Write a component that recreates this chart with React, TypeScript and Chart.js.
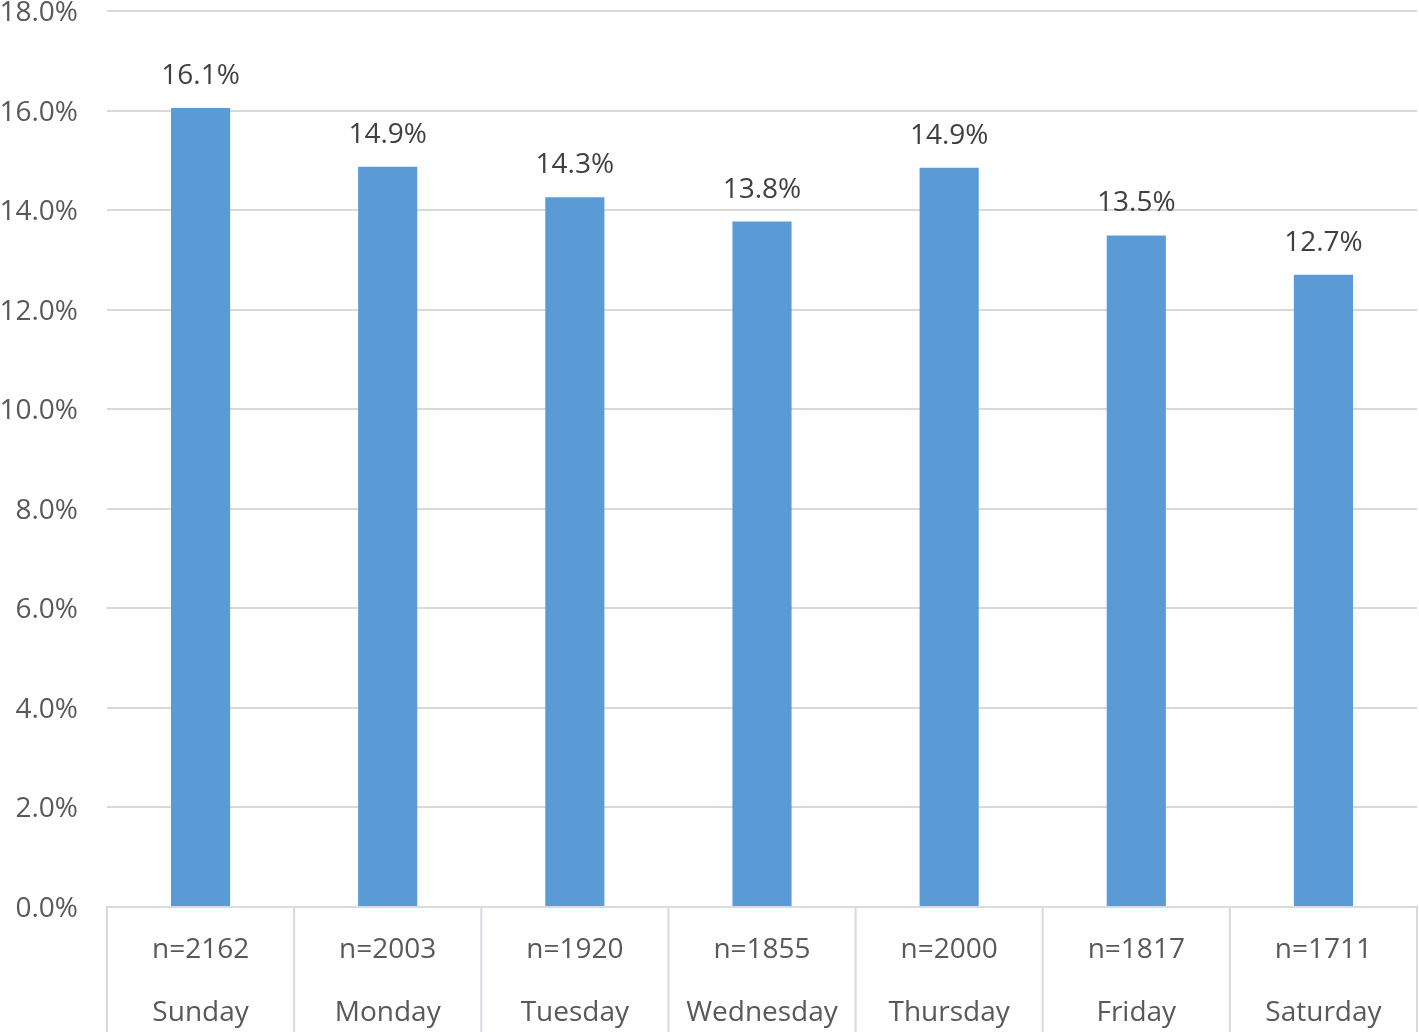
import React, { useEffect, useRef } from "react";
import { Chart, registerables } from "chart.js";

Chart.register(...registerables);

const days = ["Sunday", "Monday", "Tuesday", "Wednesday", "Thursday", "Friday", "Saturday"];
const counts = ["n=2162", "n=2003", "n=1920", "n=1855", "n=2000", "n=1817", "n=1711"];
const shares = [16.05, 14.87, 14.26, 13.77, 14.85, 13.49, 12.7];
const shareLabels = ["16.1%", "14.9%", "14.3%", "13.8%", "14.9%", "13.5%", "12.7%"];
const yTicks = [0, 2, 4, 6, 8, 10, 12, 14, 16, 18];

const FONT = "'Open Sans', sans-serif";

const separatorPlugin = {
  id: "separators",
  afterDraw(chart: any) {
    const { ctx, chartArea } = chart;
    const x = chart.scales.x;
    const n = days.length;
    ctx.save();
    ctx.strokeStyle = "#d9d9e0";
    ctx.lineWidth = 2;
    for (let i = 0; i <= n; i++) {
      let px: number;
      if (i === 0) px = x.getPixelForValue(0) - (x.getPixelForValue(1) - x.getPixelForValue(0)) / 2;
      else if (i === n) px = x.getPixelForValue(n - 1) + (x.getPixelForValue(1) - x.getPixelForValue(0)) / 2;
      else px = (x.getPixelForValue(i - 1) + x.getPixelForValue(i)) / 2;
      ctx.beginPath();
      ctx.moveTo(px, chartArea.bottom);
      ctx.lineTo(px, chart.height);
      ctx.stroke();
    }
    ctx.restore();
  },
};

const dataLabelPlugin = {
  id: "dataLabels",
  afterDatasetsDraw(chart: any) {
    const { ctx } = chart;
    const meta = chart.getDatasetMeta(0);
    ctx.save();
    ctx.font = `28px ${FONT}`;
    ctx.fillStyle = "#404040";
    ctx.textAlign = "center";
    ctx.textBaseline = "middle";
    meta.data.forEach((bar: any, i: number) => {
      ctx.fillText(shareLabels[i], bar.x, bar.y - 32);
    });
    ctx.restore();
  },
};

export default function App() {
  const ref = useRef<HTMLCanvasElement>(null);
  useEffect(() => {
    document.body.style.margin = "0";
    const chart = new Chart(ref.current!, {
      type: "bar",
      data: {
        labels: days.map((d, i) => [counts[i], d]),
        datasets: [
          {
            data: shares,
            backgroundColor: "#5b9bd5",
            borderWidth: 0,
            categoryPercentage: 1,
            barPercentage: 0.316,
          },
        ],
      },
      options: {
        animation: false,
        responsive: false,
        maintainAspectRatio: false,
        layout: { padding: { top: 11, right: 2, left: 0, bottom: 0 } },
        plugins: { legend: { display: false }, tooltip: { enabled: false } },
        scales: {
          x: {
            grid: { display: false, drawTicks: false },
            border: { display: true, color: "#d9d9e0", width: 2 },
            ticks: {
              color: "#595959",
              padding: 12,
              maxRotation: 0,
              autoSkip: false,
              font: { family: FONT, size: 28, lineHeight: 2.25 },
            },
            afterFit: (s: any) => {
              s.height = 125;
              s.paddingLeft = 0;
              s.paddingRight = 0;
            },
          },
          y: {
            min: 0,
            max: 18,
            afterBuildTicks: (s: any) => {
              s.ticks = yTicks.map((v) => ({ value: v }));
            },
            grid: { color: "#d9d9d9", lineWidth: 2, drawTicks: false },
            border: { display: false },
            ticks: {
              color: "#595959",
              padding: 29,
              labelOffset: 2,
              font: { family: FONT, size: 28 },
              callback: (v: any) => Number(v).toFixed(1) + "%",
            },
            afterFit: (s: any) => {
              s.width = 107;
              s.paddingTop = 0;
              s.paddingBottom = 0;
            },
          },
        },
      },
      plugins: [separatorPlugin, dataLabelPlugin],
    });
    return () => chart.destroy();
  }, []);
  return (
    <div style={{ position: "absolute", left: 0, top: 0, width: 1419, height: 1032 }}>
      <canvas ref={ref} width={1419} height={1032} style={{ width: 1419, height: 1032 }} />
    </div>
  );
}
